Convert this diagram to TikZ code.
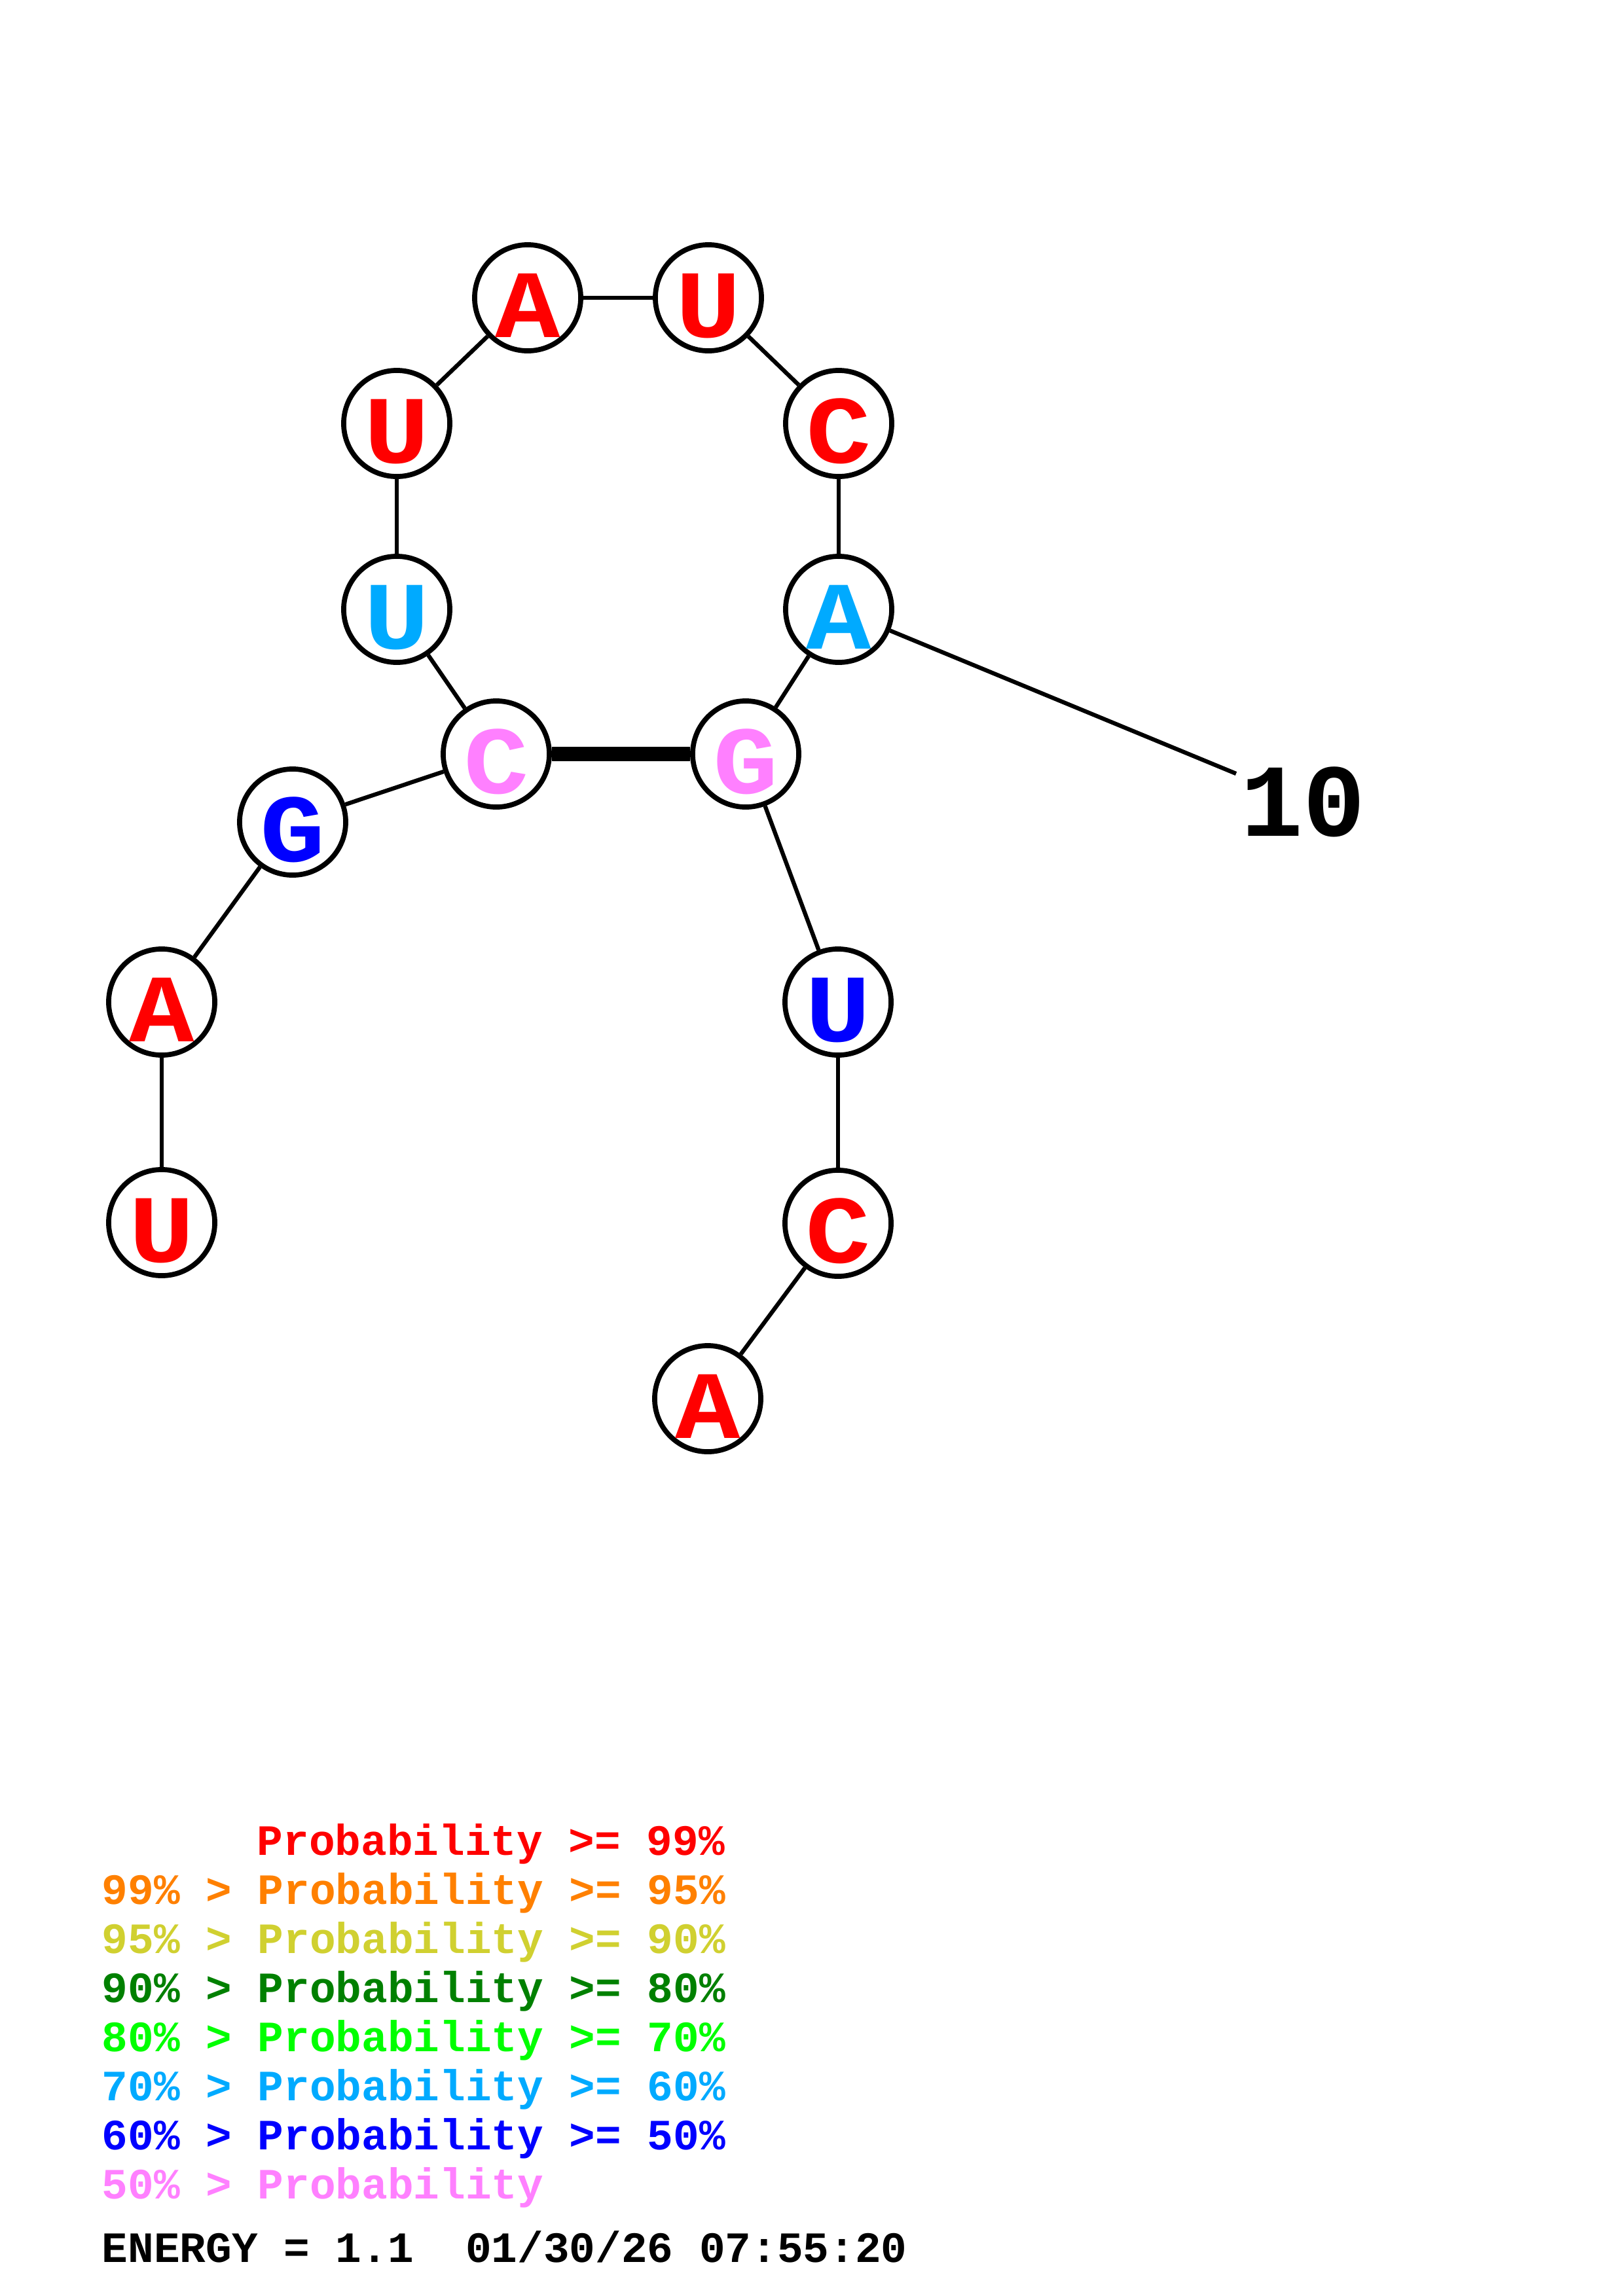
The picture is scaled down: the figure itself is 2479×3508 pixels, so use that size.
\documentclass[tikz,border=0pt]{standalone}
\usepackage{fontspec}
\newfontfamily\monob{Liberation Mono}
\newfontfamily\monowide{Liberation Mono}[FakeStretch=1.12]
\newcommand\nucfont{\monowide\bfseries\fontsize{42}{42}\selectfont}
\newcommand\numfont{\monob\bfseries\fontsize{45}{45}\selectfont}
\newcommand\legfont{\monob\bfseries\fontsize{18.8}{18.8}\selectfont}
\definecolor{pr}{RGB}{255,0,0}
\definecolor{po}{RGB}{255,128,0}
\definecolor{py}{RGB}{208,208,48}
\definecolor{pdg}{RGB}{0,128,0}
\definecolor{pg}{RGB}{0,255,0}
\definecolor{pc}{RGB}{0,170,255}
\definecolor{pb}{RGB}{0,0,255}
\definecolor{pp}{RGB}{255,128,255}
\tikzset{
  nuc/.style={circle, draw=black, line width=2.2pt, fill=white, minimum size=1.62cm,
    inner sep=0pt, font=\nucfont, text height=1.2cm, text depth=0cm},
  bb/.style={draw=black, line width=1.8pt},
  pairline/.style={draw=black, line width=6pt},
  leg/.style={anchor=base west, inner sep=0pt, font=\legfont},
}
\begin{document}
\begin{tikzpicture}[x=0.01cm,y=-0.01cm]
\fill[white] (0,0) rectangle (2479,3508);
\useasboundingbox (0,0) rectangle (2479,3508);
% nodes
\node[nuc, text=pr] (n1) at (247,1868) {U};
\node[nuc, text=pr] (n2) at (247,1531) {A};
\node[nuc, text=pb] (n3) at (447,1256) {G};
\node[nuc, text=pp] (n4) at (758,1152) {C};
\node[nuc, text=pc] (n5) at (606,931) {U};
\node[nuc, text=pr] (n6) at (606,647) {U};
\node[nuc, text=pr] (n7) at (806,455) {A};
\node[nuc, text=pr] (n8) at (1082,455) {U};
\node[nuc, text=pr] (n9) at (1281,647) {C};
\node[nuc, text=pc] (n10) at (1281,931) {A};
\node[nuc, text=pp] (n11) at (1139,1152) {G};
\node[nuc, text=pb] (n12) at (1280,1531) {U};
\node[nuc, text=pr] (n13) at (1280,1869) {C};
\node[nuc, text=pr] (n14) at (1081,2137) {A};
% backbone
\draw[bb] (n1) -- (n2);
\draw[bb] (n2) -- (n3);
\draw[bb] (n3) -- (n4);
\draw[bb] (n4) -- (n5);
\draw[bb] (n5) -- (n6);
\draw[bb] (n6) -- (n7);
\draw[bb] (n7) -- (n8);
\draw[bb] (n8) -- (n9);
\draw[bb] (n9) -- (n10);
\draw[bb] (n10) -- (n11);
\draw[bb] (n11) -- (n12);
\draw[bb] (n12) -- (n13);
\draw[bb] (n13) -- (n14);
% pair
\draw[pairline] (n4) -- (n11);
% position label
\coordinate (t10) at (1888,1182);
\draw[bb] (n10) -- (t10);
\node[inner sep=0pt, font=\numfont, anchor=base] (lab10) at (1990,1277) {10};
% legend
\node[leg, text=pr] (l1) at (392,2834) {Probability >= 99\%};
\node[leg, text=po] (l2) at (155,2909) {99\% > Probability >= 95\%};
\node[leg, text=py] (l3) at (155,2984) {95\% > Probability >= 90\%};
\node[leg, text=pdg] (l4) at (155,3059) {90\% > Probability >= 80\%};
\node[leg, text=pg] (l5) at (155,3134) {80\% > Probability >= 70\%};
\node[leg, text=pc] (l6) at (155,3209) {70\% > Probability >= 60\%};
\node[leg, text=pb] (l7) at (155,3284) {60\% > Probability >= 50\%};
\node[leg, text=pp] (l8) at (155,3359) {50\% > Probability};
\node[leg, text=black] (en) at (155,3456) {ENERGY = 1.1~~01/30/26 07:55:20};
\end{tikzpicture}
\end{document}
